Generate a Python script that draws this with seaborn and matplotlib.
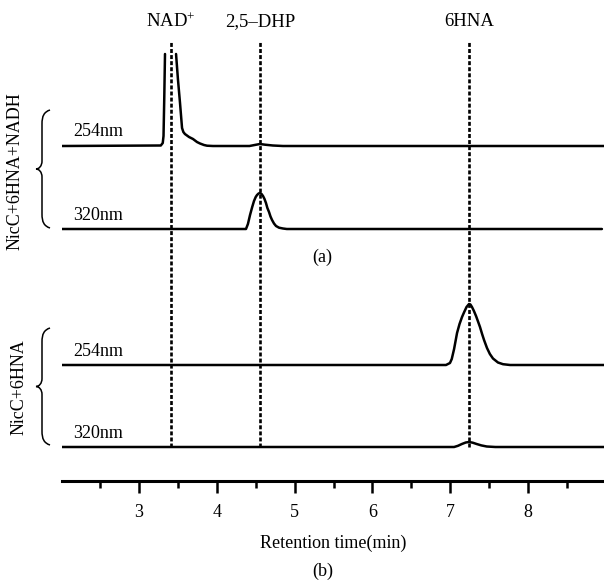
import numpy as np
import pandas as pd
import matplotlib
matplotlib.use('Agg')
import matplotlib.pyplot as plt
from matplotlib.path import Path
from matplotlib.patches import PathPatch
import seaborn as sns

sns.set_style('white')
plt.rcParams['font.family'] = ['Liberation Serif', 'DejaVu Serif']
plt.rcParams['mathtext.fontset'] = 'custom'
plt.rcParams['mathtext.rm'] = 'Liberation Serif'
plt.rcParams['mathtext.it'] = 'Liberation Serif:italic'
plt.rcParams['text.color'] = 'black'
plt.rcParams['axes.labelcolor'] = 'black'
plt.rcParams['xtick.color'] = 'black'

# --- данные, снятые с хроматограммы (время, мин / сигнал, усл. ед.) ---
# (a) NicC+6HNA+NADH, 254 nm: пик NAD+ обрезан сверху -> два куска
a254_left_t = [2.01, 3.28, 3.305, 3.315, 3.325, 3.334]
a254_left_s = [0, 0.5, 3, 10, 50, 92]
a254_right_t = [3.476, 3.50, 3.527, 3.553, 3.57, 3.59, 3.643, 3.694, 3.745, 3.784,
                3.835, 3.874, 3.95, 4.42, 4.50, 4.555, 4.62, 4.72, 4.85, 8.98]
a254_right_s = [92, 67, 43, 18, 14, 12, 9, 7, 4, 2.5,
                1, 0.3, 0, 0, 1.2, 2, 1.3, 0.5, 0, 0]

# (a) 320 nm: пик 2,5-DHP
a320_t = [2.01, 4.375, 4.40, 4.427, 4.455, 4.478, 4.50, 4.517, 4.537, 4.555, 4.575,
          4.594, 4.613, 4.632, 4.65, 4.671, 4.69, 4.71, 4.735, 4.761, 4.80, 4.85, 4.90, 8.95]
a320_s = [0, 0, 5, 14, 22, 28, 32, 34, 35.5, 36, 35,
          33, 30, 26, 21, 17, 12.5, 9, 5.5, 3, 1.3, 0.5, 0, 0]

# (b) NicC+6HNA, 254 nm: пик 6HNA
b254_t = [2.01, 6.946, 6.997, 7.02, 7.05, 7.088, 7.12, 7.152, 7.18, 7.21, 7.242,
          7.26, 7.28, 7.305, 7.332, 7.36, 7.383, 7.41, 7.435, 7.473, 7.51, 7.55,
          7.614, 7.679, 7.77, 8.98]
b254_s = [0, 0, 2, 6, 16, 32, 41, 48, 53, 58, 61,
          60.5, 58, 54, 49, 43, 38, 31, 25, 17, 11, 6.5,
          2.5, 0.8, 0, 0]

# (b) 320 nm
b320_t = [2.01, 7.05, 7.10, 7.15, 7.20, 7.242, 7.29, 7.34, 7.40, 7.47, 7.58, 8.98]
b320_s = [0, 0, 1.2, 3, 4.5, 5, 4.3, 3, 1.6, 0.5, 0, 0]

peak_names = ['NAD$^{+}$', '2,5\u2013DHP', '6HNA']
peak_rt = [3.41, 4.555, 7.24]
trace_names = ['254nm', '320nm', '254nm', '320nm']

# --- сборка таблицы ---
offsets = {'a254': 335, 'a320': 252, 'b254': 116, 'b320': 34}
parts = [
    ('a254', 'a254_l', a254_left_t, a254_left_s),
    ('a254', 'a254_r', a254_right_t, a254_right_s),
    ('a320', 'a320', a320_t, a320_s),
    ('b254', 'b254', b254_t, b254_s),
    ('b320', 'b320', b320_t, b320_s),
]
frames = []
for trace, seg, t, s in parts:
    d = pd.DataFrame({'time': t, 'signal': s})
    d['trace'] = trace
    d['seg'] = seg
    d['y'] = d['signal'] + offsets[trace]
    frames.append(d)
df = pd.concat(frames, ignore_index=True)

W, H = 604, 582
fig = plt.figure(figsize=(W / 100, H / 100), dpi=100)
ax = fig.add_axes([62 / W, (H - 481) / H, 1 - 62 / W, 481 / H])

sns.lineplot(data=df, x='time', y='y', units='seg', estimator=None, sort=False,
             color='black', lw=1.8, ax=ax, legend=False)

# пунктирные линии пиков
ax.vlines(peak_rt, 34, 440, colors='black', lw=1.9, linestyles=(0, (1.5, 0.8)))
for name, rt in zip(peak_names, peak_rt):
    ax.text(rt, 459, name, ha='center', va='center', fontsize=13.5)

# подписи длин волн
for name, key in zip(trace_names, ['a254', 'a320', 'b254', 'b320']):
    ax.text(2.15, offsets[key] + 14, name, ha='left', va='center', fontsize=13)

ax.text(5.35, 224, '(a)', ha='center', va='center', fontsize=13)

ax.set_xlim(2.01, 8.977)
ax.set_ylim(0, 481)
ax.set_yticks([])
for side in ['left', 'top', 'right']:
    ax.spines[side].set_visible(False)
ax.spines['bottom'].set_linewidth(2.2)
ax.spines['bottom'].set_color('black')
ax.set_xticks([3, 4, 5, 6, 7, 8])
ax.set_xticks([2.5, 3.5, 4.5, 5.5, 6.5, 7.5, 8.5], minor=True)
ax.tick_params(axis='x', which='major', direction='out', length=8.6, width=1.8,
               color='black', labelcolor='black', labelsize=13, pad=8, bottom=True)
ax.tick_params(axis='x', which='minor', direction='out', length=5, width=1.8,
               color='black', bottom=True)
ax.set_xlabel('Retention time(min)', fontsize=13, labelpad=10)
ax.set_ylabel('')
ax.patch.set_alpha(0)

fig.text(323 / W, 1 - 571 / H, '(b)', ha='center', va='center', fontsize=13)
fig.text(15 / W, 1 - 171 / H, 'NicC+6HNA+NADH', rotation=90, ha='center', va='center', fontsize=13)
fig.text(19 / W, 1 - 387 / H, 'NicC+6HNA', rotation=90, ha='center', va='center', fontsize=13)


# фигурные скобки (в пикселях картинки)
def brace(top, bot, x_end=50, x_mid=42, x_tip=36):
    mid = (top + bot) / 2
    pts = [(x_end, top), (x_mid + 2, top + 2), (x_mid, top + 6), (x_mid, top + 14),
           (x_mid, mid - 8),
           (x_mid, mid - 3), (x_mid - 3, mid), (x_tip, mid),
           (x_mid - 3, mid), (x_mid, mid + 3), (x_mid, mid + 8),
           (x_mid, bot - 14),
           (x_mid, bot - 6), (x_mid + 2, bot - 2), (x_end, bot)]
    codes = [Path.MOVETO, Path.CURVE4, Path.CURVE4, Path.CURVE4,
             Path.LINETO,
             Path.CURVE4, Path.CURVE4, Path.CURVE4,
             Path.CURVE4, Path.CURVE4, Path.CURVE4,
             Path.LINETO,
             Path.CURVE4, Path.CURVE4, Path.CURVE4]
    verts = [(x / W, 1 - y / H) for x, y in pts]
    fig.add_artist(PathPatch(Path(verts, codes), fill=False, lw=1.1,
                             edgecolor='black', transform=fig.transFigure))


brace(110, 228)
brace(328, 445)

fig.savefig('out.png', dpi=100)
